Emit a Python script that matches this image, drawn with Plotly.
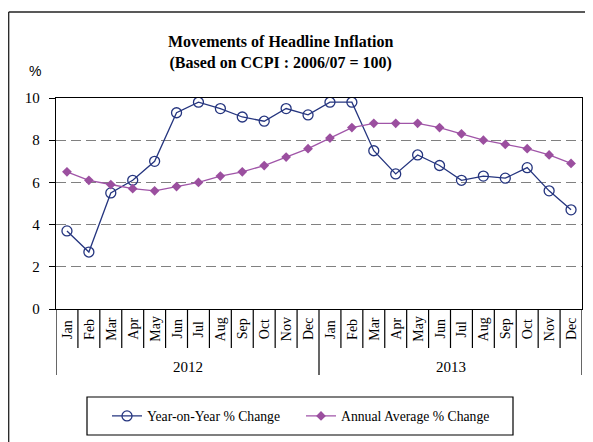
import plotly.graph_objects as go

months = ["Jan","Feb","Mar","Apr","May","Jun","Jul","Aug","Sep","Oct","Nov","Dec"]
years = ["2012", "2013"]
categories = [m for _ in years for m in months]

yoy = [3.7, 2.7, 5.5, 6.1, 7.0, 9.3, 9.8, 9.5, 9.1, 8.9, 9.5, 9.2,
       9.8, 9.8, 7.5, 6.4, 7.3, 6.8, 6.1, 6.3, 6.2, 6.7, 5.6, 4.7]
annual_avg = [6.5, 6.1, 5.9, 5.7, 5.6, 5.8, 6.0, 6.3, 6.5, 6.8, 7.2, 7.6,
              8.1, 8.6, 8.8, 8.8, 8.8, 8.6, 8.3, 8.0, 7.8, 7.6, 7.3, 6.9]
y_ticks = [0, 2, 4, 6, 8, 10]

# page body has an 8px margin; design in screen coordinates and compensate
OFF = 8
SW, SH = 593, 442
L, R, T, B = 56, 582, 98, 309          # plot area in screen px
W, H = SW - OFF, SH - OFF
pw, ph = R - L, B - T

def px(xp):
    return (xp - L) / pw

def py(yp):
    return (B - yp) / ph

SERIF = "Liberation Serif, Times New Roman, serif"
xs = list(range(len(categories)))

fig = go.Figure()
fig.add_trace(go.Scatter(
    x=xs, y=yoy, mode="lines+markers", name="Year-on-Year % Change",
    line=dict(color="#25357F", width=1.3),
    marker=dict(symbol="circle-open", size=10, color="#25357F", line=dict(width=1.3)),
))
fig.add_trace(go.Scatter(
    x=xs, y=annual_avg, mode="lines+markers", name="Annual Average % Change",
    line=dict(color="#A055A8", width=1.3),
    marker=dict(symbol="diamond", size=7.5, color="#9B4F9F"),
))

shapes = []
for k in range(len(categories) + 1):
    bottom = py(375) if k % 12 == 0 else py(348)
    shapes.append(dict(type="line", xref="x", yref="paper", x0=k - 0.5, x1=k - 0.5,
                       y0=0, y1=bottom, line=dict(color="black", width=1.2)))
# outer border
shapes.append(dict(type="line", xref="paper", yref="paper", x0=px(8.7), x1=px(8.7),
                   y0=py(460), y1=py(12), line=dict(color="#222", width=1.3)))
shapes.append(dict(type="line", xref="paper", yref="paper", x0=px(8.7), x1=px(610),
                   y0=py(12), y1=py(12), line=dict(color="#222", width=1.3)))
# legend box
shapes.append(dict(type="rect", xref="paper", yref="paper", x0=px(87), x1=px(513),
                   y0=py(435), y1=py(397), line=dict(color="black", width=1.2)))

annotations = []
for i, m in enumerate(categories):
    annotations.append(dict(x=i, y=py(329), xref="x", yref="paper", text=m,
                            textangle=-90, showarrow=False, xanchor="center", yanchor="middle",
                            font=dict(family=SERIF, size=14, color="black")))
for j, yr in enumerate(years):
    annotations.append(dict(x=j * 12 + 5.5, y=py(367), xref="x", yref="paper", text=yr,
                            showarrow=False, xanchor="center", yanchor="middle",
                            font=dict(family=SERIF, size=15, color="black")))
annotations.append(dict(x=px(280), y=py(53), xref="paper", yref="paper",
                        xanchor="center", yanchor="middle",
                        text="<b>Movements of Headline Inflation</b><br><b>(Based on CCPI : 2006/07 = 100)</b>",
                        showarrow=False, font=dict(family=SERIF, size=16, color="black")))
annotations.append(dict(x=px(35), y=py(71), xref="paper", yref="paper", text="%",
                        xanchor="center", yanchor="middle",
                        showarrow=False, font=dict(family="Liberation Sans, Arial, sans-serif", size=14, color="black")))

fig.update_layout(
    width=W, height=H,
    margin=dict(l=L - OFF, r=W - (R - OFF), t=T - OFF, b=H - (B - OFF), pad=0),
    paper_bgcolor="white", plot_bgcolor="white",
    showlegend=True,
    legend=dict(orientation="h", x=px(107), xanchor="left", y=py(416), yanchor="middle",
                borderwidth=0, bgcolor="rgba(0,0,0,0)",
                font=dict(family=SERIF, size=13.7, color="black"),
                itemwidth=30, entrywidth=149, tracegroupgap=0),
    shapes=shapes, annotations=annotations,
)
fig.update_xaxes(range=[-0.5, len(categories) - 0.5], showticklabels=False, showgrid=False,
                 zeroline=False, showline=True, linecolor="black", linewidth=1.3, mirror=True,
                 ticks="")
fig.update_yaxes(range=[0, 10], tickvals=y_ticks, showgrid=True, gridcolor="#808080",
                 griddash="10px,5px", gridwidth=1.2, zeroline=False, showline=True,
                 linecolor="black", linewidth=1.3, mirror=True, ticks="outside", ticklen=6,
                 ticklabelstandoff=6,
                 tickcolor="black", tickfont=dict(family=SERIF, size=15, color="black"))

fig.write_html("out.html")
